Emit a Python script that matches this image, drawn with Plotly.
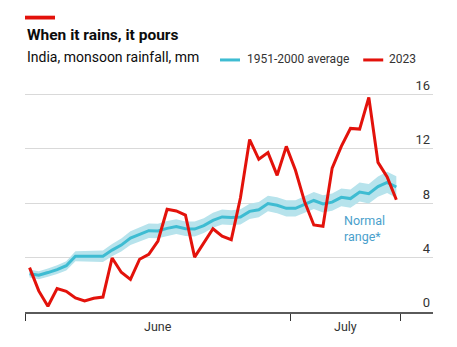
import plotly.graph_objects as go

# Day index from the start of the monsoon season
days = list(range(41))

# Daily rainfall, mm
rain_2023 = [3.26, 1.55, 0.42, 1.72, 1.52, 1.03, 0.81, 1.01, 1.10, 3.97,
             2.92, 2.40, 3.88, 4.24, 5.22, 7.55, 7.43, 7.13, 4.04, 5.08,
             6.12, 5.57, 5.32, 8.40, 12.68, 11.23, 11.72, 10.05, 12.18, 10.42,
             8.10, 6.40, 6.30, 10.58, 12.18, 13.50, 13.45, 15.78, 11.00, 9.93,
             8.25]

avg_1951_2000 = [2.82, 2.70, 2.90, 3.12, 3.40, 4.10, 4.10, 4.10, 4.10, 4.55,
                 4.92, 5.43, 5.70, 5.98, 5.96, 6.15, 6.28, 6.12, 6.10, 6.35,
                 6.74, 6.99, 6.94, 6.99, 7.40, 7.52, 7.98, 7.85, 7.62, 7.62,
                 7.91, 8.20, 7.95, 8.08, 8.43, 8.34, 8.82, 8.70, 9.22, 9.53,
                 9.19]

range_low = [2.54, 2.41, 2.60, 2.80, 3.06, 3.73, 3.72, 3.70, 3.68, 4.10,
             4.44, 4.93, 5.18, 5.45, 5.43, 5.61, 5.74, 5.58, 5.55, 5.80,
             6.19, 6.44, 6.39, 6.43, 6.84, 6.96, 7.41, 7.27, 7.03, 7.02,
             7.30, 7.58, 7.32, 7.44, 7.78, 7.67, 8.12, 7.98, 8.47, 8.75,
             8.39]

range_high = [3.10, 2.99, 3.20, 3.44, 3.74, 4.47, 4.48, 4.50, 4.52, 5.00,
              5.40, 5.93, 6.22, 6.51, 6.49, 6.69, 6.82, 6.66, 6.65, 6.90,
              7.29, 7.54, 7.49, 7.55, 7.96, 8.08, 8.55, 8.43, 8.21, 8.22,
              8.52, 8.82, 8.58, 8.72, 9.08, 9.01, 9.52, 9.42, 9.97, 10.31,
              9.99]

# Month boundaries and month label positions on the day axis
month_ticks = [-0.5, 28.5, 40.5]
month_names = ["June", "July"]
month_centres = [14, 34.5]

y_ticks = [0, 4, 8, 12, 16]

RED = "#E3120B"
BLUE = "#3EBCD2"
BAND = "#B7E3EC"
FONT = "Roboto"

fig = go.Figure()

fig.add_trace(go.Scatter(x=days, y=range_high, mode="lines",
                         line=dict(width=0), hoverinfo="skip",
                         showlegend=False))
fig.add_trace(go.Scatter(x=days, y=range_low, mode="lines",
                         line=dict(width=0), fill="tonexty",
                         fillcolor=BAND, hoverinfo="skip",
                         showlegend=False))
fig.add_trace(go.Scatter(x=days, y=avg_1951_2000, mode="lines",
                         name="1951-2000 average",
                         line=dict(color=BLUE, width=3), showlegend=False))
fig.add_trace(go.Scatter(x=days, y=rain_2023, mode="lines", name="2023",
                         line=dict(color=RED, width=3), showlegend=False))

annotations = [
    dict(text="<b>When it rains, it pours</b>", x=0, y=1.164,
         xref="paper", yref="paper", xanchor="left", yanchor="middle",
         showarrow=False, font=dict(family=FONT, size=15.5, color="#0C0C0C")),
    dict(text="India, monsoon rainfall, mm", x=0, y=1.070,
         xref="paper", yref="paper", xanchor="left", yanchor="middle",
         showarrow=False, font=dict(family=FONT, size=14, color="#0C0C0C")),
    dict(text="1951-2000 average", x=0.539, y=1.061,
         xref="paper", yref="paper", xanchor="left", yanchor="middle",
         showarrow=False, font=dict(family=FONT, size=12, color="#333333")),
    dict(text="2023", x=0.888, y=1.061,
         xref="paper", yref="paper", xanchor="left", yanchor="middle",
         showarrow=False, font=dict(family=FONT, size=12, color="#333333")),
    dict(text="Normal<br>range*", x=34.1, y=7.4, xref="x", yref="y",
         xanchor="left", yanchor="top", align="left", showarrow=False,
         font=dict(family=FONT, size=12.5, color="#4A9FCC")),
]
for name, xc in zip(month_names, month_centres):
    annotations.append(dict(text=name, x=xc, y=-0.062, xref="x", yref="paper",
                            xanchor="center", yanchor="middle",
                            showarrow=False,
                            font=dict(family=FONT, size=12.5,
                                      color="#333333")))

shapes = [
    # red tag above the title
    dict(type="rect", xref="paper", yref="paper", x0=0, x1=0.0736,
         y0=1.229, y1=1.245, fillcolor=RED, line=dict(width=0)),
    # legend keys
    dict(type="line", xref="paper", yref="paper", x0=0.478, x1=0.527,
         y0=1.059, y1=1.059, line=dict(color=BLUE, width=3)),
    dict(type="line", xref="paper", yref="paper", x0=0.829, x1=0.878,
         y0=1.059, y1=1.059, line=dict(color=RED, width=3)),
]

fig.update_layout(
    width=457, height=347,
    margin=dict(l=25, r=24, t=74, b=35),
    paper_bgcolor="white", plot_bgcolor="white",
    showlegend=False,
    annotations=annotations,
    shapes=shapes,
    xaxis=dict(range=[-0.5, 44.0], tickmode="array", tickvals=month_ticks,
               showticklabels=False, ticks="outside", ticklen=7,
               tickwidth=1.2, tickcolor="#333333", showgrid=False,
               showline=True, linecolor="#5A5A5A", linewidth=1.5,
               zeroline=False, fixedrange=True),
    yaxis=dict(range=[0, 17.5], tickmode="array", tickvals=y_ticks,
               side="right", ticklabelposition="inside top",
               showgrid=True, gridcolor="#D9D9D9", gridwidth=1,
               zeroline=False, showline=False, ticks="",
               tickfont=dict(family=FONT, size=13, color="#333333"),
               fixedrange=True),
)

fig.write_html("out.html")
